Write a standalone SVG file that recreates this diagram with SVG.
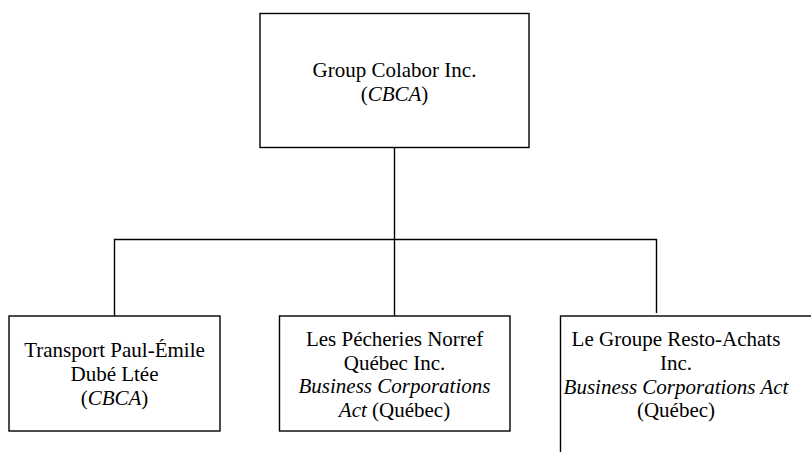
<svg xmlns="http://www.w3.org/2000/svg" width="811" height="452" viewBox="0 0 811 452">
<style>
.box{fill:#fff;stroke:#000;stroke-width:1.4}
.conn{fill:none;stroke:#000;stroke-width:1.4}
text{font-family:'Liberation Serif','Times New Roman','DejaVu Serif',serif;font-size:21px;fill:#000;text-anchor:middle}
.i{font-style:italic}
</style>
<rect width="811" height="452" fill="#fff"/>
<g id="connectors">
<line class="conn" x1="394.5" y1="147.5" x2="394.5" y2="316"/>
<polyline class="conn" points="114.5,316 114.5,239.5 656.5,239.5 656.5,313"/>
</g>
<g id="node-colabor">
<rect class="box" x="260" y="13.5" width="269" height="134"/>
<text x="394.5" y="77" font-family="Liberation Serif, serif">Group Colabor Inc.</text>
<text x="394.5" y="101">(<tspan class="i">CBCA</tspan>)</text>
</g>
<g id="node-transport">
<rect class="box" x="9" y="316" width="211" height="115"/>
<text x="114.5" y="357">Transport Paul-Émile</text>
<text x="114.5" y="381">Dubé Ltée</text>
<text x="114.5" y="405">(<tspan class="i">CBCA</tspan>)</text>
</g>
<g id="node-norref">
<rect class="box" x="279.5" y="316" width="230.5" height="115"/>
<text x="394.5" y="346">Les Pécheries Norref</text>
<text x="394.5" y="370">Québec Inc.</text>
<text x="394.5" y="393" class="i">Business Corporations</text>
<text x="394.5" y="417"><tspan class="i">Act</tspan> (Québec)</text>
</g>
<g id="node-resto">
<rect class="box" x="560.5" y="316" width="300" height="200"/>
<text x="676" y="346">Le Groupe Resto-Achats</text>
<text x="676" y="370">Inc.</text>
<text x="676" y="394" class="i">Business Corporations Act</text>
<text x="676" y="417">(Québec)</text>
</g>
</svg>
